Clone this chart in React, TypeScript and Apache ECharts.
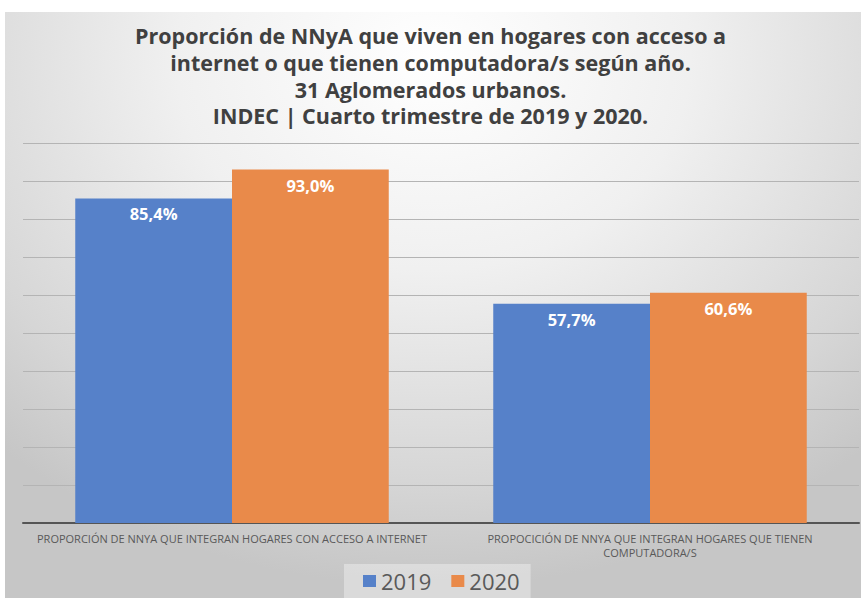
import React, { useEffect, useRef } from "react";
import * as echarts from "echarts";

const titleLines = [
  "Proporción de NNyA que viven en hogares con acceso a",
  "internet o que tienen computadora/s según año.",
  "31 Aglomerados urbanos.",
  "INDEC | Cuarto trimestre de 2019 y 2020.",
];
const categories = [
  "PROPORCIÓN DE NNYA QUE INTEGRAN HOGARES CON ACCESO A INTERNET",
  "PROPOCICIÓN DE NNYA QUE INTEGRAN HOGARES QUE TIENEN\nCOMPUTADORA/S",
];
const seriesNames = ["2019", "2020"];
const values2019 = [85.4, 57.7];
const values2020 = [93.0, 60.6];
const colors = ["#5681C9", "#E98A4A"];

export default function App() {
  const ref = useRef<HTMLDivElement>(null);
  useEffect(() => {
    if (!ref.current) return;
    const chart = echarts.init(ref.current, null, { renderer: "svg" });
    const label = {
      show: true,
      position: "insideTop",
      distance: 7,
      color: "#ffffff",
      fontWeight: "bold",
      fontSize: 16.5,
      fontFamily: "Open Sans",
      formatter: (p: any) => p.value.toFixed(1).replace(".", ",") + "%",
    };
    chart.setOption({
      animation: false,
      backgroundColor: "transparent",
      title: {
        text: titleLines.join("\n"),
        left: "center",
        top: 17,
        textStyle: {
          fontFamily: "Open Sans",
          fontWeight: "bold",
          fontSize: 21.5,
          lineHeight: 26.8,
          color: "#404040",
        },
      },
      legend: {
        data: seriesNames,
        bottom: 0,
        left: 344,
        itemWidth: 13,
        itemHeight: 12,
        itemGap: 20,
        padding: [6, 11, 6, 19],
        backgroundColor: "rgba(255,255,255,0.35)",
        textStyle: { fontFamily: "Open Sans", fontSize: 22, color: "#595959" },
        icon: "rect",
      },
      grid: { left: 23, right: 2, top: 143, bottom: 75 },
      xAxis: {
        type: "category",
        data: categories,
        axisLine: { lineStyle: { color: "#555555", width: 2 } },
        axisTick: { show: false },
        axisLabel: {
          fontFamily: "Open Sans",
          fontSize: 11,
          color: "#595959",
          lineHeight: 14,
          margin: 8,
          interval: 0,
        },
      },
      yAxis: {
        type: "value",
        min: 0,
        max: 100,
        interval: 10,
        axisLabel: { show: false },
        axisLine: { show: false },
        axisTick: { show: false },
        splitLine: { lineStyle: { color: "#b4b4b4", width: 1 } },
      },
      series: [
        {
          name: seriesNames[0],
          type: "bar",
          data: values2019,
          itemStyle: { color: colors[0] },
          barGap: "0%",
          barCategoryGap: "25%",
          label,
        },
        {
          name: seriesNames[1],
          type: "bar",
          data: values2020,
          itemStyle: { color: colors[1] },
          barGap: "0%",
          barCategoryGap: "25%",
          label,
        },
      ],
    });
    return () => chart.dispose();
  }, []);
  return (
    <div
      style={{
        position: "fixed",
        left: 0,
        top: 0,
        width: 861,
        height: 598,
        background: "#ffffff",
      }}
    >
      <div
        style={{
          position: "absolute",
          left: 5,
          top: 12,
          width: 856,
          height: 586,
          background:
            "radial-gradient(ellipse 75% 90% at 50% 8%, #ffffff 0%, #f0f0f0 40%, #d6d6d6 80%, #c6c6c6 100%)",
        }}
      />
      <div ref={ref} style={{ position: "absolute", left: 0, top: 0, width: 861, height: 598 }} />
    </div>
  );
}
